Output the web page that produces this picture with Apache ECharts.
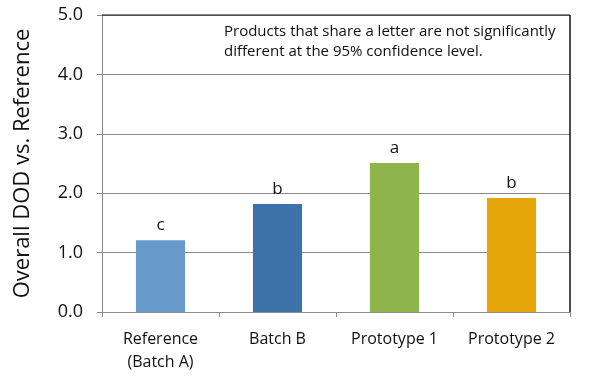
<!DOCTYPE html>
<html><head><meta charset="utf-8">
<script src="https://cdn.jsdelivr.net/npm/echarts@6/dist/echarts.min.js"></script>
<style>html,body{margin:0;padding:0;background:#fff}#c{width:600px;height:380px}</style>
</head><body><div id="c"></div>
<script>
const categories = ['Reference\n(Batch A)', 'Batch B', 'Prototype 1', 'Prototype 2'];
const values = [1.21, 1.82, 2.51, 1.92];
const letters = ['c', 'b', 'a', 'b'];
const colors = ['#6799CB', '#3C72A7', '#8DB54B', '#E5A60A'];
const yTicks = { min: 0, max: 5, interval: 1 };
const note = 'Products that share a letter are not significantly\ndifferent at the 95% confidence level.';

const font = '"Open Sans", "Noto Sans", sans-serif';
const chart = echarts.init(document.getElementById('c'), null, { renderer: 'canvas' });
chart.setOption({
  animation: false,
  backgroundColor: '#fff',
  grid: { left: 102, right: 30, top: 15, bottom: 68, show: false, containLabel: false, outerBoundsMode: 'none' },
  xAxis: {
    type: 'category', data: categories,
    axisLine: { show: true, lineStyle: { color: '#8a8a8a', width: 1 } },
    axisTick: { show: true, length: 5, alignWithLabel: false, lineStyle: { color: '#8a8a8a' } },
    axisLabel: { color: '#111', fontSize: 16, fontFamily: font, margin: 16, lineHeight: 23 }
  },
  yAxis: {
    type: 'value', min: yTicks.min, max: yTicks.max, interval: yTicks.interval,
    name: 'Overall DOD vs. Reference', nameLocation: 'middle', nameGap: 68,
    nameTextStyle: { fontSize: 22, color: '#111', fontFamily: font },
    axisLine: { show: true, lineStyle: { color: '#8a8a8a' } },
    axisTick: { show: true, length: 5, lineStyle: { color: '#8a8a8a' } },
    axisLabel: { color: '#111', fontSize: 18, fontFamily: font, margin: 19, formatter: v => v.toFixed(1) },
    splitLine: { show: true, lineStyle: { color: '#8a8a8a', width: 1 } }
  },
  series: [{
    type: 'bar', barWidth: '42%',
    data: values.map((v, i) => ({ value: v, itemStyle: { color: colors[i] } })),
    label: { show: true, position: 'top', distance: 6, fontSize: 17, color: '#111', fontFamily: font,
      formatter: p => letters[p.dataIndex] }
  }],
  graphic: [
    { type: 'line', shape: { x1: 102, y1: 15, x2: 570, y2: 15 }, style: { stroke: '#111', lineWidth: 1 }, z: 10 },
    { type: 'line', shape: { x1: 570, y1: 15, x2: 570, y2: 312 }, style: { stroke: '#111', lineWidth: 1.5 }, z: 10 },
    { type: 'text', left: 224, top: 22, style: { text: note, fontSize: 15, lineHeight: 20, fill: '#111', fontFamily: font } }
  ]
});
</script></body></html>
